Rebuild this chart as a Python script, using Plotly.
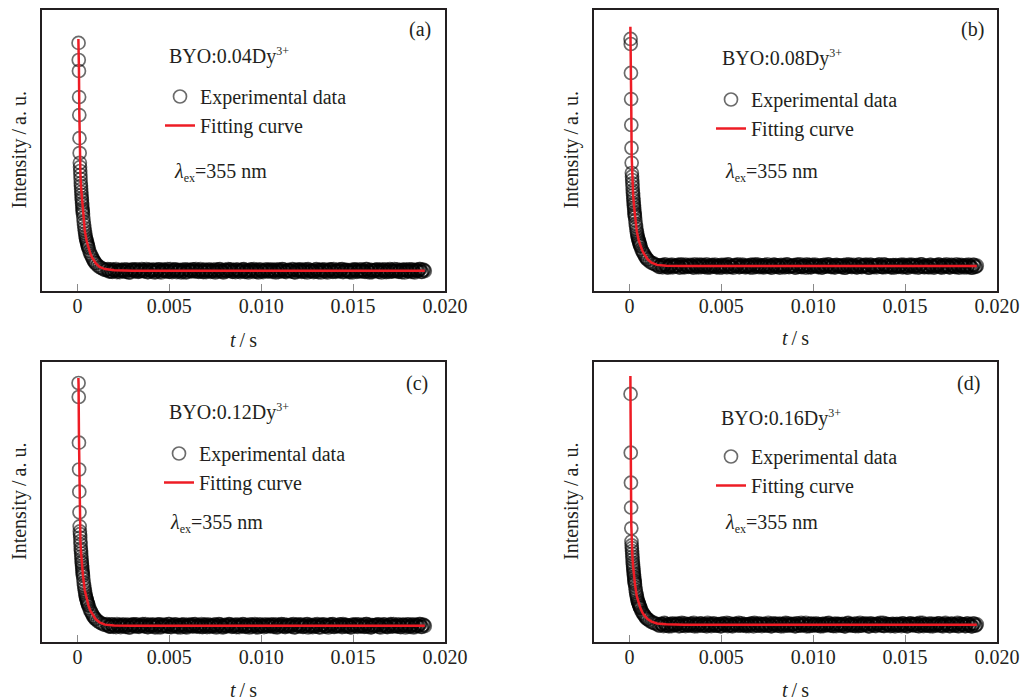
import plotly.graph_objects as go

# ---------------- data (time in microseconds, intensity in arbitrary units) ----------------
t_decay_us = [60, 70, 80, 90, 100, 110, 120, 130, 140, 150, 160, 170, 180, 190, 200, 210, 220, 230, 240, 250,
              260, 270, 280, 290, 300, 320, 340, 360, 380, 400, 420, 440, 460, 480, 500, 520, 540, 560, 580, 600,
              650, 700, 750, 800, 850, 900, 950, 1000, 1100, 1200, 1300, 1400, 1500]
t_tail_us = [1600, 1700, 1800, 1900, 2000, 2100, 2200, 2300, 2400, 2500, 2600, 2700, 2800, 2900, 3000, 3100, 3200,
             3300, 3400, 3500, 3600, 3700, 3800, 3900, 4000, 4100, 4200, 4300, 4400, 4500, 4600, 4700, 4800, 4900,
             5000, 5100, 5200, 5300, 5400, 5500, 5600, 5700, 5800, 5900, 6000, 6100, 6200, 6300, 6400, 6500, 6600,
             6700, 6800, 6900, 7000, 7100, 7200, 7300, 7400, 7500, 7600, 7700, 7800, 7900, 8000, 8100, 8200, 8300,
             8400, 8500, 8600, 8700, 8800, 8900, 9000, 9100, 9200, 9300, 9400, 9500, 9600, 9700, 9800, 9900, 10000,
             10100, 10200, 10300, 10400, 10500, 10600, 10700, 10800, 10900, 11000, 11100, 11200, 11300, 11400, 11500,
             11600, 11700, 11800, 11900, 12000, 12100, 12200, 12300, 12400, 12500, 12600, 12700, 12800, 12900, 13000,
             13100, 13200, 13300, 13400, 13500, 13600, 13700, 13800, 13900, 14000, 14100, 14200, 14300, 14400, 14500,
             14600, 14700, 14800, 14900, 15000, 15100, 15200, 15300, 15400, 15500, 15600, 15700, 15800, 15900, 16000,
             16100, 16200, 16300, 16400, 16500, 16600, 16700, 16800, 16900, 17000, 17100, 17200, 17300, 17400, 17500,
             17600, 17700, 17800, 17900, 18000, 18100, 18200, 18300, 18400, 18500, 18600, 18700, 18800, 18900]
t_mid_us = [1650, 1750, 1850, 1950, 2050, 2150, 2250, 2350, 2450, 2550, 2650, 2750, 2850, 2950, 3050, 3150, 3250,
            3350, 3450, 3550, 3650, 3750, 3850, 3950, 4050, 4150, 4250, 4350, 4450, 4550, 4650, 4750, 4850, 4950,
            5050, 5150, 5250, 5350, 5450, 5550, 5650, 5750, 5850, 5950, 6050, 6150, 6250, 6350, 6450, 6550, 6650,
            6750, 6850, 6950, 7050, 7150, 7250, 7350, 7450, 7550, 7650, 7750, 7850, 7950, 8050, 8150, 8250, 8350,
            8450, 8550, 8650, 8750, 8850, 8950, 9050, 9150, 9250, 9350, 9450, 9550, 9650, 9750, 9850, 9950, 10050,
            10150, 10250, 10350, 10450, 10550, 10650, 10750, 10850, 10950, 11050, 11150, 11250, 11350, 11450, 11550,
            11650, 11750, 11850, 11950, 12050, 12150, 12250, 12350, 12450, 12550, 12650, 12750, 12850, 12950, 13050,
            13150, 13250, 13350, 13450, 13550, 13650, 13750, 13850, 13950, 14050, 14150, 14250, 14350, 14450, 14550,
            14650, 14750, 14850, 14950, 15050, 15150, 15250, 15350, 15450, 15550, 15650, 15750, 15850, 15950, 16050,
            16150, 16250, 16350, 16450, 16550, 16650, 16750, 16850, 16950, 17050, 17150, 17250, 17350, 17450, 17550,
            17650, 17750, 17850, 17950, 18050, 18150, 18250, 18350, 18450, 18550, 18650, 18750, 18850]

a_decay = [883, 822, 783, 690, 626, 544, 491, 456, 441, 427, 413, 399, 384, 374, 363, 352, 342, 331, 324, 313,
           306, 295, 288, 281, 274, 260, 246, 235, 224, 214, 205, 196, 189, 183, 178, 173, 167, 162, 157, 153,
           142, 133, 126, 119, 112, 107, 101, 98, 91, 85, 82, 78, 75]
b_decay = [897, 879, 776, 683, 591, 509, 456, 420, 407, 395, 383, 371, 358, 349, 340, 330, 322, 312, 306, 297,
           291, 281, 275, 269, 263, 251, 239, 230, 220, 211, 204, 196, 190, 185, 180, 176, 171, 167, 162, 159,
           149, 142, 136, 130, 123, 119, 114, 111, 105, 100, 98, 94, 92]
c_decay = [925, 875, 712, 616, 537, 463, 413, 395, 385, 373, 360, 348, 334, 326, 316, 306, 297, 287, 281, 272,
           265, 256, 249, 243, 237, 225, 212, 202, 193, 184, 176, 168, 162, 156, 152, 147, 142, 138, 133, 130,
           120, 112, 106, 100, 93, 89, 84, 81, 75, 70, 67, 63, 61]
d_decay = [886, 676, 569, 480, 406, 359, 345, 335, 325, 315, 305, 295, 284, 277, 269, 262, 255, 247, 242, 234,
           229, 221, 216, 211, 206, 196, 186, 178, 170, 163, 157, 150, 145, 141, 138, 134, 130, 126, 123, 120,
           112, 105, 101, 96, 91, 87, 83, 81, 76, 71, 69, 66, 64]

a_tail = [75, 70, 77, 68, 73, 78, 71, 67, 74, 72, 69, 76, 66, 74, 77, 71, 75, 68, 72, 78,
          70, 73, 67, 76, 71, 75, 66, 74, 77, 69, 72, 76, 70, 78, 68, 73, 71, 77, 67, 74,
          75, 69, 72, 66, 76, 74, 70, 77, 71, 73, 68, 78, 69, 75, 67, 72, 74, 70, 76, 66,
          73, 77, 71, 68, 75, 70, 78, 72, 69, 74, 67, 76, 73, 71, 77, 68, 74, 66, 75, 72,
          78, 70, 69, 76, 72, 67, 73, 75, 71, 77, 68, 74, 66, 73, 76, 70, 77, 69, 72, 75,
          71, 78, 67, 74, 70, 76, 68, 72, 77, 66, 75, 71, 73, 69, 78, 67, 74, 76, 70, 72,
          66, 75, 77, 68, 73, 71, 76, 70, 78, 69, 74, 72, 67, 75, 71, 77, 68, 73, 70, 76,
          69, 78, 72, 66, 74, 71, 75, 77, 68, 73, 76, 70, 67, 74, 78, 69, 72, 71, 77, 68,
          73, 75, 66, 76, 70, 72, 77, 69, 74, 71, 78, 68, 75, 71]
b_tail = [86, 91, 84, 93, 88, 83, 90, 94, 87, 89, 92, 85, 95, 87, 84, 90, 86, 93, 89, 83,
          91, 88, 94, 85, 90, 86, 95, 87, 84, 92, 89, 85, 91, 83, 93, 88, 90, 84, 94, 87,
          86, 92, 89, 95, 85, 87, 91, 84, 90, 88, 93, 83, 92, 86, 94, 89, 87, 91, 85, 95,
          88, 84, 90, 93, 86, 91, 83, 89, 92, 87, 94, 85, 88, 90, 84, 93, 87, 95, 86, 89,
          83, 91, 92, 85, 89, 94, 88, 86, 90, 84, 93, 87, 95, 88, 85, 91, 84, 92, 89, 86,
          90, 83, 94, 87, 91, 85, 93, 89, 84, 95, 86, 90, 88, 92, 83, 94, 87, 85, 91, 89,
          95, 86, 84, 93, 88, 90, 85, 91, 83, 92, 87, 89, 94, 86, 90, 84, 93, 88, 91, 85,
          92, 83, 89, 95, 87, 90, 86, 84, 93, 88, 85, 91, 94, 87, 83, 92, 89, 90, 84, 93,
          88, 86, 95, 85, 91, 89, 84, 92, 87, 90, 83, 93, 86, 90]
c_tail = [64, 56, 55, 62, 58, 53, 59, 61, 57, 63, 54, 60, 52, 59, 62, 56, 63, 55, 58, 61,
          57, 64, 53, 60, 56, 62, 54, 58, 63, 52, 61, 57, 59, 55, 64, 53, 60, 62, 56, 58,
          52, 61, 63, 54, 59, 57, 62, 56, 64, 55, 60, 58, 53, 61, 57, 63, 54, 59, 56, 62,
          55, 64, 58, 52, 60, 57, 61, 63, 54, 59, 62, 56, 53, 60, 64, 55, 58, 57, 63, 54,
          59, 61, 52, 62, 56, 58, 63, 55, 60, 57, 61, 56, 63, 54, 59, 64, 57, 53, 60, 58,
          55, 62, 52, 60, 63, 57, 61, 54, 58, 64, 56, 59, 53, 62, 57, 61, 52, 60, 63, 55,
          58, 62, 56, 64, 54, 59, 57, 63, 53, 60, 61, 55, 58, 52, 62, 60, 56, 63, 57, 59,
          54, 64, 55, 61, 53, 58, 60, 56, 62, 52, 59, 63, 57, 54, 61, 56, 64, 58, 55, 60,
          53, 62, 59, 57, 63, 54, 60, 52, 61, 58, 64, 54, 61, 57]
d_tail = [59, 65, 62, 68, 58, 60, 64, 57, 63, 61, 66, 56, 65, 59, 67, 62, 60, 64, 58, 68,
          61, 57, 63, 66, 59, 64, 56, 62, 65, 60, 67, 58, 61, 63, 57, 66, 60, 68, 59, 62,
          56, 64, 65, 58, 62, 67, 61, 59, 63, 57, 66, 60, 68, 61, 58, 64, 57, 65, 62, 59,
          63, 56, 67, 60, 64, 58, 66, 62, 57, 68, 59, 63, 61, 65, 56, 67, 60, 58, 64, 62,
          68, 59, 57, 66, 61, 63, 58, 64, 56, 65, 60, 62, 67, 59, 63, 57, 66, 61, 64, 58,
          65, 56, 62, 68, 60, 63, 59, 57, 66, 61, 58, 64, 67, 60, 56, 65, 62, 63, 57, 66,
          61, 59, 68, 58, 64, 62, 57, 65, 60, 63, 59, 64, 57, 66, 61, 56, 63, 67, 60, 62,
          65, 58, 68, 60, 57, 63, 59, 66, 62, 56, 64, 61, 67, 58, 63, 59, 68, 60, 57, 65,
          62, 58, 64, 56, 66, 61, 63, 57, 67, 60, 56, 66, 59, 63]

a_mid = [78, 70, 69, 76, 72, 67, 73, 75, 71, 77, 68, 74, 66, 73, 76, 70, 77, 69, 72, 75,
         71, 78, 67, 74, 70, 76, 68, 72, 77, 66, 75, 71, 73, 69, 78, 67, 74, 76, 70, 72,
         66, 75, 77, 68, 73, 71, 76, 70, 78, 69, 74, 72, 67, 75, 71, 77, 68, 73, 70, 76,
         69, 78, 72, 66, 74, 71, 75, 77, 68, 73, 76, 70, 67, 74, 78, 69, 72, 71, 77, 68,
         73, 75, 66, 76, 70, 72, 77, 69, 74, 71, 75, 70, 77, 68, 73, 78, 71, 67, 74, 72,
         69, 76, 66, 74, 77, 71, 75, 68, 72, 78, 70, 73, 67, 76, 71, 75, 66, 74, 77, 69,
         72, 76, 70, 78, 68, 73, 71, 77, 67, 74, 75, 69, 72, 66, 76, 74, 70, 77, 71, 73,
         68, 78, 69, 75, 67, 72, 74, 70, 76, 66, 73, 77, 71, 68, 75, 70, 78, 72, 69, 74,
         67, 76, 73, 71, 77, 68, 74, 66, 75, 72, 78, 68, 75]
b_mid = [86, 92, 89, 95, 85, 87, 91, 84, 90, 88, 93, 83, 92, 86, 94, 89, 87, 91, 85, 95,
         88, 84, 90, 93, 86, 91, 83, 89, 92, 87, 94, 85, 88, 90, 84, 93, 87, 95, 86, 89,
         83, 91, 92, 85, 89, 94, 88, 86, 90, 84, 93, 87, 95, 88, 85, 91, 84, 92, 89, 86,
         90, 83, 94, 87, 91, 85, 93, 89, 84, 95, 86, 90, 88, 92, 83, 94, 87, 85, 91, 89,
         95, 86, 84, 93, 88, 90, 85, 91, 83, 92, 87, 89, 94, 86, 90, 84, 93, 88, 91, 85,
         92, 83, 89, 95, 87, 90, 86, 84, 93, 88, 85, 91, 94, 87, 83, 92, 89, 90, 84, 93,
         88, 86, 95, 85, 91, 89, 84, 92, 87, 90, 86, 91, 84, 93, 88, 83, 90, 94, 87, 89,
         92, 85, 95, 87, 84, 90, 86, 93, 89, 83, 91, 88, 94, 85, 90, 86, 95, 87, 84, 92,
         89, 85, 91, 83, 93, 88, 90, 84, 94, 87, 83, 93, 86]
c_mid = [61, 56, 63, 54, 59, 64, 57, 53, 60, 58, 55, 62, 52, 60, 63, 57, 61, 54, 58, 64,
         56, 59, 53, 62, 57, 61, 52, 60, 63, 55, 58, 62, 56, 64, 54, 59, 57, 63, 53, 60,
         61, 55, 58, 52, 62, 60, 56, 63, 57, 59, 54, 64, 55, 61, 53, 58, 60, 56, 62, 52,
         59, 63, 57, 54, 61, 56, 64, 58, 55, 60, 53, 62, 59, 57, 63, 54, 60, 52, 61, 58,
         64, 56, 55, 62, 58, 53, 59, 61, 57, 63, 54, 60, 52, 59, 62, 56, 63, 55, 58, 61,
         57, 64, 53, 60, 56, 62, 54, 58, 63, 52, 61, 57, 59, 55, 64, 53, 60, 62, 56, 58,
         52, 61, 63, 54, 59, 57, 62, 56, 64, 55, 60, 58, 53, 61, 57, 63, 54, 59, 56, 62,
         55, 64, 58, 52, 60, 57, 61, 63, 54, 59, 62, 56, 53, 60, 64, 55, 58, 57, 63, 54,
         59, 61, 52, 62, 56, 58, 63, 55, 60, 57, 64, 54, 61]
d_mid = [59, 64, 57, 66, 61, 56, 63, 67, 60, 62, 65, 58, 68, 60, 57, 63, 59, 66, 62, 56,
         64, 61, 67, 58, 63, 59, 68, 60, 57, 65, 62, 58, 64, 56, 66, 61, 63, 57, 67, 60,
         59, 65, 62, 68, 58, 60, 64, 57, 63, 61, 66, 56, 65, 59, 67, 62, 60, 64, 58, 68,
         61, 57, 63, 66, 59, 64, 56, 62, 65, 60, 67, 58, 61, 63, 57, 66, 60, 68, 59, 62,
         56, 64, 65, 58, 62, 67, 61, 59, 63, 57, 66, 60, 68, 61, 58, 64, 57, 65, 62, 59,
         63, 56, 67, 60, 64, 58, 66, 62, 57, 68, 59, 63, 61, 65, 56, 67, 60, 58, 64, 62,
         68, 59, 57, 66, 61, 63, 58, 64, 56, 65, 60, 62, 67, 59, 63, 57, 66, 61, 64, 58,
         65, 56, 62, 68, 60, 63, 59, 57, 66, 61, 58, 64, 67, 60, 56, 65, 62, 63, 57, 66,
         61, 59, 68, 58, 64, 62, 57, 65, 60, 63, 56, 66, 59]

fit_t_us = [50, 60, 80, 100, 120, 140, 160, 200, 250, 300, 400, 500, 600, 700, 800, 1000, 1200, 1500, 2000,
            3000, 18900]
a_fit = [897, 870, 790, 640, 505, 445, 415, 365, 318, 276, 214, 178, 152, 133, 119, 98, 86, 78, 74, 72, 72]
b_fit = [940, 905, 800, 640, 480, 410, 385, 342, 300, 265, 212, 181, 160, 143, 131, 112, 101, 93, 90, 89, 89]
c_fit = [943, 920, 740, 560, 430, 385, 360, 316, 272, 237, 184, 152, 130, 112, 100, 81, 70, 62, 59, 58, 58]
d_fit = [950, 900, 590, 415, 350, 325, 305, 269, 234, 206, 163, 138, 120, 106, 96, 81, 73, 66, 63, 62, 62]

panel_tags = ["(a)", "(b)", "(c)", "(d)"]
doping = ["0.04", "0.08", "0.12", "0.16"]
x_tickvals = [0, 0.005, 0.010, 0.015, 0.020]
x_ticktext = ["0", "0.005", "0.010", "0.015", "0.020"]

# ---------------- layout helpers ----------------
W, H = 1026, 700
FONT = "Liberation Serif"
TXT = "#231f20"


def px(x):
    return x / W


def py(y):
    return 1 - y / H


# plot boxes in pixels: (left, right, top, bottom)
boxes = [(42, 445, 10, 291), (594, 997, 10, 291), (42, 445, 362, 642), (594, 997, 362, 642)]
tag_pos = [(420, 30), (972, 30), (417, 383), (968, 383)]
sample_pos = [(167, 56), (720, 58), (167, 412), (719, 418)]
lambda_pos = [(172, 173), (723, 173), (168, 523), (723, 523)]
legend_pos = [(160, 77), (711, 80), (159, 434), (711, 437)]
tlabel_y = [340, 338, 690, 690]
ylab_x = [19, 571, 19, 571]

decays = [a_decay, b_decay, c_decay, d_decay]
tails = [a_tail, b_tail, c_tail, d_tail]
mids = [a_mid, b_mid, c_mid, d_mid]
fits = [a_fit, b_fit, c_fit, d_fit]

t_all = [v * 1e-6 for v in t_decay_us + t_tail_us + t_mid_us]
t_fit = [v * 1e-6 for v in fit_t_us]

SMALL = "<span style='font-size:12px'>{}</span>"
BIG = "<span style='font-size:20px'>{}</span>"

fig = go.Figure()
layout = dict(
    width=W, height=H, margin=dict(l=0, r=0, t=0, b=0, pad=0), autosize=False,
    paper_bgcolor="white", plot_bgcolor="white",
    font=dict(family=FONT, size=20, color=TXT),
    annotations=[],
)

for i in range(4):
    sfx = "" if i == 0 else str(i + 1)
    leg = "legend" + sfx
    L, R, T, B = boxes[i]
    fig.add_trace(go.Scatter(
        x=t_all, y=decays[i] + tails[i] + mids[i], mode="markers", name="Experimental data",
        marker=dict(symbol="circle-open", size=13, color="rgba(0,0,0,0.58)", line=dict(width=1.7)),
        xaxis="x" + sfx, yaxis="y" + sfx, legend=leg, showlegend=True,
    ))
    fig.add_trace(go.Scatter(
        x=t_fit, y=fits[i], mode="lines", name="Fitting curve",
        line=dict(color="#ee1c25", width=2.5),
        xaxis="x" + sfx, yaxis="y" + sfx, legend=leg, showlegend=True,
    ))
    layout["xaxis" + sfx] = dict(
        domain=[px(L), px(R)], anchor="y" + sfx, range=[-0.00193, 0.0200], automargin=False,
        showline=True, linecolor="#231f20", linewidth=1.5, mirror=True,
        ticks="inside", ticklen=7, tickwidth=1.2, tickcolor="#8a8a8a",
        tickvals=x_tickvals, ticktext=x_ticktext, ticklabelstandoff=-4,
        tickfont=dict(family=FONT, size=20, color=TXT),
        showgrid=False, zeroline=False,
    )
    layout["yaxis" + sfx] = dict(
        domain=[py(B), py(T)], anchor="x" + sfx, range=[0, 1000], automargin=False,
        showline=True, linecolor="#231f20", linewidth=1.5, mirror=True,
        ticks="", showticklabels=False, showgrid=False, zeroline=False,
    )
    lx, ly = legend_pos[i]
    layout[leg] = dict(
        x=px(lx), y=py(ly), xanchor="left", yanchor="top",
        bgcolor="rgba(0,0,0,0)", borderwidth=0,
        font=dict(family=FONT, size=20, color=TXT),
        tracegroupgap=0, itemwidth=30,
    )
    ann = layout["annotations"]
    ann.append(dict(text=panel_tags[i], x=px(tag_pos[i][0]), y=py(tag_pos[i][1]), xref="paper", yref="paper",
                    xanchor="center", yanchor="middle", showarrow=False, font=dict(size=20)))
    ann.append(dict(text="BYO:" + doping[i] + "Dy<sup>" + SMALL.format("3+") + "</sup>",
                    x=px(sample_pos[i][0]), y=py(sample_pos[i][1]), xref="paper", yref="paper",
                    xanchor="left", yanchor="middle", showarrow=False, font=dict(size=20)))
    ann.append(dict(text="<i>" + BIG.format("λ") + "</i><sub>" + SMALL.format("ex") + "</sub>=355 nm",
                    x=px(lambda_pos[i][0]), y=py(lambda_pos[i][1]),
                    xref="paper", yref="paper", xanchor="left", yanchor="middle", showarrow=False,
                    font=dict(size=20)))
    ann.append(dict(text="<i>" + BIG.format("t") + "</i>\u2009/\u2009s", x=px((L + R) / 2), y=py(tlabel_y[i]),
                    xref="paper", yref="paper", xanchor="center", yanchor="middle", showarrow=False,
                    font=dict(size=20)))
    ann.append(dict(text="Intensity\u2009/\u2009a. u.", x=px(ylab_x[i]), y=py((T + B) / 2), xref="paper",
                    yref="paper", xanchor="center", yanchor="middle", textangle=-90, showarrow=False,
                    font=dict(size=20)))

fig.update_layout(**layout)
fig.write_html(
    "out.html",
    config={"responsive": False, "displayModeBar": False},
    post_script="document.body.style.margin='0';document.body.style.overflow='hidden';",
)
